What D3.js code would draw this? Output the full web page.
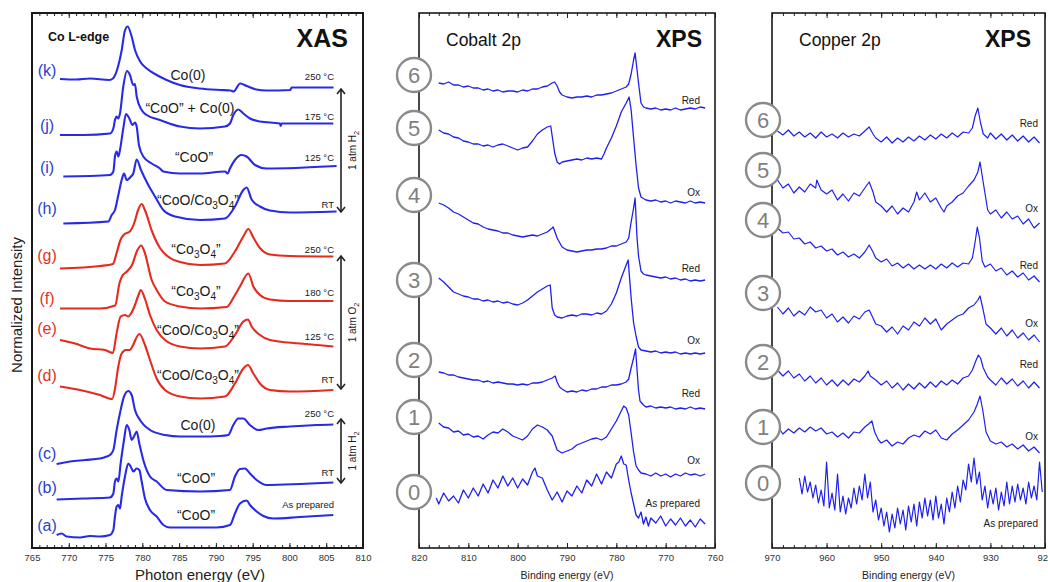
<!DOCTYPE html>
<html>
<head>
<meta charset="utf-8">
<script src="https://cdn.jsdelivr.net/npm/d3@7"></script>
<style>
  body { margin: 0; background: #fff; }
  text { font-family: "Liberation Sans", Arial, sans-serif; }
</style>
</head>
<body>
<svg id="fig" width="1048" height="582"></svg>
<script>
// ---------- XAS (Co L-edge), [photon energy eV, normalized intensity] ----------
const xasA = [[768.35,0.26],[769.03,0.29],[769.71,0.23],[771.52,0.21],[772.88,0.24],[774.24,0.23],[775.6,0.26],[776.06,0.36],[776.28,0.63],[776.51,0.83],[776.74,0.86],[776.96,0.79],[777.19,1.03],[777.64,1.43],[778.09,1.69],[778.41,1.63],[778.77,1.53],[779.23,1.59],[779.59,1.56],[779.91,1.33],[780.36,0.99],[781.04,0.76],[781.95,0.63],[782.85,0.46],[783.76,0.41],[785.12,0.41],[787.84,0.41],[790.1,0.41],[791.91,0.46],[792.59,0.69],[793.27,0.89],[794.18,0.95],[794.63,0.86],[795.54,0.73],[796.45,0.64],[797.8,0.59],[801.43,0.62],[805.96,0.66]];
const xasB = [[768.35,0.97],[771.98,0.99],[775.6,1.01],[776.06,1.09],[776.28,1.33],[776.51,1.39],[776.74,1.33],[777.05,1.69],[777.51,2.16],[777.87,2.46],[778.23,2.36],[778.55,2.16],[778.86,2.23],[779.23,2.33],[779.59,2.09],[780.13,1.76],[781.04,1.43],[781.95,1.33],[783.31,1.16],[787.84,1.13],[791.91,1.16],[792.59,1.43],[793.27,1.58],[793.95,1.59],[794.63,1.49],[795.54,1.36],[796.9,1.26],[801.43,1.28],[805.96,1.31]];
const xasC = [[768.35,1.68],[770.17,1.73],[772.2,1.76],[774.24,1.79],[775.15,1.83],[775.6,1.86],[776.06,1.96],[776.51,2.36],[777.05,2.76],[777.51,3.03],[778.09,3.14],[778.55,3.06],[779.0,2.76],[779.68,2.56],[781.04,2.36],[783.08,2.26],[785.12,2.23],[787.84,2.23],[790.55,2.24],[791.69,2.26],[792.37,2.46],[793.05,2.59],[793.73,2.59],[794.63,2.46],[795.77,2.36],[796.9,2.39],[800.07,2.43],[803.7,2.46],[805.96,2.47]];
const xasD = [[768.81,3.23],[771.52,3.16],[774.24,3.06],[775.9,2.98],[776.3,3.2],[776.7,3.6],[777.19,3.89],[777.78,3.96],[778.32,3.96],[778.64,4.03],[779.59,4.28],[780.36,4.06],[781.04,3.76],[781.95,3.39],[783.08,3.16],[785.12,3.03],[787.84,2.99],[791.23,3.03],[792.59,3.29],[793.73,3.59],[794.36,3.66],[795.09,3.49],[795.99,3.29],[797.35,3.16],[800.07,3.13],[805.96,3.16]];
const xasE = [[768.81,4.16],[770.85,4.09],[772.88,3.99],[774.92,3.96],[776.0,3.9],[776.51,4.3],[777.05,4.63],[777.64,4.66],[778.09,4.63],[778.46,4.69],[779.0,4.86],[779.45,5.05],[779.8,5.16],[780.36,4.98],[781.04,4.66],[781.95,4.36],[783.08,4.16],[785.12,4.03],[787.84,3.99],[791.23,4.03],[792.59,4.26],[793.73,4.53],[794.36,4.57],[794.86,4.43],[795.99,4.26],[797.35,4.16],[801.43,4.09],[805.96,4.03]];
const xasF = [[768.81,4.79],[774.24,4.79],[776.3,4.85],[776.9,5.3],[777.3,5.45],[777.9,5.53],[778.6,5.66],[779.3,5.95],[779.85,6.05],[780.3,5.92],[781.27,5.36],[781.95,5.16],[783.08,4.93],[785.12,4.83],[787.84,4.79],[791.46,4.82],[792.59,5.06],[793.27,5.23],[794.41,5.49],[795.09,5.23],[795.99,5.06],[797.35,4.97],[800.07,4.94],[805.96,4.94]];
const xasG = [[768.81,5.59],[774.24,5.64],[776.0,5.68],[776.5,5.9],[777.0,6.15],[777.5,6.27],[778.3,6.33],[778.9,6.5],[779.4,6.75],[779.9,6.88],[780.4,6.74],[781.3,6.34],[782.4,6.0],[783.76,5.8],[785.12,5.72],[787.84,5.66],[791.23,5.69],[792.59,5.93],[793.73,6.23],[794.41,6.38],[795.09,6.21],[795.99,6.0],[797.35,5.87],[800.07,5.84],[805.96,5.83]];
const xasH = [[769.26,6.49],[775.38,6.53],[775.83,6.66],[776.28,6.76],[776.74,7.06],[777.19,7.36],[777.51,7.49],[777.87,7.36],[778.46,7.43],[778.77,7.49],[779.23,7.77],[779.82,7.56],[780.81,7.26],[781.72,7.03],[782.85,6.76],[784.44,6.63],[787.84,6.56],[791.23,6.59],[792.59,6.83],[793.73,7.16],[794.18,7.21],[794.86,6.97],[795.99,6.83],[797.35,6.75],[800.07,6.71],[806.41,6.73]];
const xasI = [[769.26,7.43],[775.6,7.46],[776.06,7.53],[776.28,7.83],[776.51,7.93],[776.74,7.83],[776.96,7.96],[777.41,8.39],[777.78,8.68],[778.23,8.59],[778.68,8.46],[779.0,8.51],[779.23,8.43],[779.54,8.06],[780.13,7.83],[781.27,7.69],[782.4,7.59],[782.85,7.53],[785.12,7.49],[787.84,7.49],[791.23,7.53],[791.6,7.49],[791.91,7.59],[792.59,7.76],[793.5,7.86],[794.18,7.83],[795.31,7.66],[796.9,7.59],[806.41,7.64]];
const xasJ = [[768.8,8.26],[772.0,8.26],[775.6,8.29],[776.06,8.39],[776.28,8.56],[776.51,8.63],[776.74,8.59],[776.96,8.69],[777.41,9.23],[777.91,9.54],[778.32,9.46],[778.77,9.26],[779.0,9.28],[779.23,9.03],[779.91,8.76],[780.59,8.66],[782.4,8.56],[785.12,8.43],[787.84,8.39],[791.23,8.43],[791.91,8.49],[792.37,8.66],[793.05,8.77],[793.73,8.69],[794.63,8.59],[795.99,8.53],[798.71,8.49],[798.8,8.44],[798.94,8.49],[805.96,8.49]];
const xasK = [[768.8,9.38],[771.0,9.37],[772.9,9.39],[775.5,9.36],[776.0,9.39],[776.7,9.63],[777.2,9.96],[777.6,10.33],[778.0,10.43],[778.55,10.23],[779.0,9.96],[779.7,9.73],[780.6,9.59],[781.95,9.46],[783.3,9.36],[785.1,9.26],[787.8,9.19],[790.6,9.16],[792.0,9.15],[792.4,9.13],[793.3,9.29],[794.2,9.24],[795.5,9.17],[796.9,9.15],[800.1,9.16],[800.3,9.21],[806.0,9.21]];

const xasIds = ["(a)","(b)","(c)","(d)","(e)","(f)","(g)","(h)","(i)","(j)","(k)"];
const xasPhases = ["“CoO”","“CoO”","Co(0)","“CoO/Co_3O_4”","“CoO/Co_3O_4”","“Co_3O_4”","“Co_3O_4”","“CoO/Co_3O_4”","“CoO”","“CoO” + Co(0)","Co(0)"];
const xasTemps = ["As prepared","RT","250 °C","RT","125 °C","180 °C","250 °C","RT","125 °C","175 °C","250 °C"];
const xasOxidising = ["(d)","(e)","(f)","(g)"];
const xasTicks = [765,770,775,780,785,790,795,800,805,810];

// ---------- XPS Cobalt 2p, [binding energy eV, counts a.u.] ----------
const co0 = [[816.5,50],[816,44],[815,55],[814,47],[813,52],[812,45],[811,58],[810,50],[809,60],[808,52],[807,64],[806,55],[805,68],[804,60],[803,72],[802,62],[801,70],[800,60],[799,69],[798,63],[797,76],[796.5,80],[796,72],[795,70],[794,58],[793,48],[792,56],[791,46],[790,57],[789,52],[788,62],[787,55],[786,68],[785,62],[784,74],[783,64],[782,76],[781,70],[780,84],[779.5,86],[779,92],[778.5,84],[778,83],[777.5,68],[777,55],[776.5,44],[776,33],[775.5,30],[775,36],[774.5,24],[774,31],[773.5,22],[773,30],[772,25],[771,32],[770,22],[769,29],[768,23],[767,30],[766,22],[765,28],[764,21],[763,29],[762,24]];
const co1 = [[816,125],[815,121],[814,120],[813,116],[812,117],[811,113],[810,114],[809,111],[808,112],[807,109],[806,113],[805,116],[804,115],[803,119],[802,116],[801,112],[800,110],[799,108],[798,112],[797,119],[796,123],[795,121],[794,118],[793,112],[792,98],[791,95],[790,97],[789,99],[788,103],[787,105],[786,107],[785,109],[784,110],[783,108],[782,111],[781,119],[780,127],[779,137],[778.5,142],[778,140],[777.5,133],[777,115],[776.5,96],[776,82],[775.5,78],[775,75],[774,74],[773,72],[772,75],[771,72],[770,74],[769,71],[768,74],[767,72],[766,75],[765,73],[764,74],[763,72],[762,74]];
const co2 = [[816,176],[815,175],[814,173],[813,173],[812,171],[811,170],[810,169],[809,168],[808,168],[807,166],[806,167],[805,165],[804,166],[803,165],[802,164],[801,164],[800,163],[799,164],[798,163],[797,165],[796,165],[795,166],[794,168],[793,170],[792.4,172],[792,166],[791.5,161],[791,159],[790,156],[789,157],[788,156],[787,158],[786,157],[785,159],[784,159],[783,161],[782,161],[781,163],[780,163],[779,164],[778,166],[777.5,169],[777,180],[776.5,190],[776.1,199],[775.8,178],[775.5,158],[775.2,147],[774.5,143],[774,141],[773,142],[772,140],[771,141],[770,140],[769,141],[768,139],[767,140],[766,139],[765,141],[764,139],[763,140],[762,139]];
const co3 = [[816,270],[815,266],[814,261],[813,256],[812,254],[811,252],[810,251],[809,249],[808,249],[807,247],[806,248],[805,246],[804,247],[803,245],[802,246],[801,244],[800,243],[799,245],[798,248],[797,252],[796,256],[795,259],[794,262],[793.4,263],[793,240],[792.5,233],[792,231],[791,230],[790,232],[789,233],[788,232],[787,234],[786,234],[785,233],[784,235],[783,234],[782,237],[781,244],[780,255],[779,270],[778,283],[777.6,288],[777,250],[776.5,225],[776,212],[775.5,201],[775,198],[774,197],[773,196],[772,197],[771,195],[770,196],[769,195],[768,196],[767,194],[766,195],[765,194],[764,195],[763,194],[762,195]];
const co4 = [[816,345],[815,343],[814,340],[813,336],[812,334],[811,331],[810,328],[809,325],[808,324],[807,321],[806,319],[805,318],[804,317],[803,315],[802,315],[801,313],[800,312],[799,311],[798,312],[797,313],[796,312],[795,314],[794,316],[793,320],[792.8,321],[792,310],[791,301],[790,298],[789,297],[788,296],[787,297],[786,298],[785,298],[784,299],[783,299],[782,300],[781,302],[780,302],[779,304],[778,306],[777.5,310],[777,326],[776.5,340],[776.2,350],[775.8,310],[775.5,292],[775,277],[774.5,274],[774,273],[773,272],[772,271],[771,270],[770,271],[769,269],[768,270],[767,268],[766,269],[765,267],[764,268],[763,267],[762,268]];
const co5 = [[816,418],[815,415],[814,414],[813,411],[812,410],[811,407],[810,406],[809,404],[808,404],[807,402],[806,403],[805,401],[804,403],[803,404],[802,402],[801,400],[800,398],[799,400],[798,401],[797,407],[796,414],[795,418],[794,421],[793.3,422],[793,412],[792.5,395],[792,386],[791.5,384],[791,386],[790,387],[789,388],[788,389],[787,388],[786,390],[785,389],[784,390],[783,389],[782.5,394],[782,400],[781,410],[780,422],[779,436],[778,445],[777.4,451],[777,438],[776.5,410],[776,383],[775.5,360],[775,351],[774,348],[773,347],[772,348],[771,346],[770,347],[769,345],[768,347],[767,346],[766,345],[765,347],[764,345],[763,346],[762,345]];
const co6 = [[816,465],[815,464],[814,466],[813,463],[812,463],[811,461],[810,462],[809,460],[808,460],[807,458],[806,459],[805,457],[804,458],[803,456],[802,457],[801,457],[800,456],[799,458],[798,457],[797,459],[796,459],[795,461],[794,462],[793,465],[792.5,466],[792,462],[791.5,456],[791,453],[790,451],[789,450],[788,451],[787,451],[786,452],[785,451],[784,453],[783,453],[782,454],[781,455],[780,457],[779,459],[778,461],[777.5,464],[777,474],[776.5,488],[776.2,495],[775.8,478],[775.5,465],[775,445],[774.5,441],[774,440],[773,439],[772,440],[771,438],[770,439],[769,438],[768,440],[767,438],[766,439],[765,440],[764,439],[763,441],[762,440]];
const coTicks = [820,810,800,790,780,770,760];

// ---------- XPS Copper 2p ----------
const cu0 = [[965,70],[964.5,54],[964,72],[963.5,56],[963,66],[962.5,50],[962,63],[961.5,45],[961,58],[960.5,42],[960,86],[959.5,40],[959,55],[958.5,38],[958,74],[957.5,36],[957,52],[956.5,34],[956,50],[955.5,40],[955,60],[954.5,44],[954,62],[953.5,48],[953,74],[952.5,50],[952,66],[951.5,36],[951,48],[950.5,28],[950,40],[949.5,22],[949,36],[948.5,16],[948,34],[947.5,20],[947,40],[946.5,24],[946,38],[945.5,18],[945,42],[944.5,26],[944,44],[943.5,22],[943,46],[942.5,30],[942,50],[941.5,32],[941,48],[940.5,28],[940,52],[939.5,30],[939,44],[938.5,24],[938,50],[937.5,36],[937,56],[936.5,40],[936,62],[935.5,46],[935,68],[934.5,58],[934,84],[933.5,66],[933,90],[932.5,64],[932,76],[931.5,48],[931,62],[930.5,40],[930,58],[929.5,44],[929,60],[928.5,38],[928,56],[927.5,42],[927,66],[926.5,44],[926,62],[925.5,46],[925,64],[924.5,48],[924,60],[923.5,44],[923,66],[922.5,50],[922,62],[921.5,48],[921,86],[920.5,56]];
const cu1 = [[968.5,118],[968,114],[967,119],[966,115],[965,120],[964,116],[963,121],[962,117],[961,120],[960,114],[959,116],[958,111],[957,115],[956,110],[955,116],[954,115],[953,121],[952.3,124],[951.7,127],[951.2,116],[950.5,108],[950,105],[949,108],[948,102],[947,106],[946,104],[945,110],[944,113],[943,111],[942,117],[941,114],[940,118],[939,110],[938,108],[937,114],[936,118],[935,123],[934,128],[933,136],[932.4,144],[931.9,152],[931.4,138],[930.8,116],[930,107],[929,104],[928,106],[927,101],[926,104],[925,99],[924,103],[923,97],[922,101],[921,95]];
const cu2 = [[969,178],[968,172],[967,177],[966,170],[965,174],[964,167],[963,172],[962,165],[961,170],[960,163],[959,168],[958,162],[957,168],[956,163],[955,169],[954,166],[953,172],[952.4,177],[952,172],[951,168],[950,163],[949,167],[948,160],[947,165],[946,158],[945,164],[944,159],[943,165],[942,160],[941,166],[940,161],[939,167],[938,163],[937,168],[936,164],[935,170],[934,172],[933.3,178],[932.6,188],[932.2,193],[931.8,190],[931.3,180],[930.5,171],[930,168],[929,163],[928,170],[927,164],[926,169],[925,162],[924,167],[923,160],[922,166],[921,160]];
const cu3 = [[969,241],[968,234],[967,240],[966,232],[965,237],[964,233],[963,241],[962,236],[961,238],[960,230],[959,234],[958,226],[957,231],[956,225],[955,232],[954,229],[953,236],[952.2,238],[951.5,230],[951,224],[950,222],[949,216],[948,221],[947,214],[946,222],[945,218],[944,226],[943,222],[942,230],[941,224],[940,229],[939,218],[938,224],[937,228],[936,232],[935,234],[934,240],[933,243],[932.3,248],[931.9,252],[931.4,240],[930.8,224],[930,220],[929,214],[928,220],[927,212],[926,218],[925,210],[924,215],[923,208],[922,213],[921,206]];
const cu4 = [[969,320],[968,315],[967,316],[966,309],[965,310],[964,304],[963,306],[962,300],[961,302],[960,297],[959,299],[958,293],[957,296],[956,291],[955,294],[954,290],[953,296],[952.2,303],[951.5,296],[951,290],[950,286],[949,289],[948,282],[947,285],[946,280],[945,284],[944,279],[943,283],[942,279],[941,283],[940,279],[939,284],[938,280],[937,285],[936,281],[935,285],[934,284],[933.3,290],[932.8,306],[932.4,321],[932,310],[931.5,287],[931,281],[930,284],[929,277],[928,280],[927,273],[926,277],[925,271],[924,275],[923,268],[922,272],[921,266]];
const cu5 = [[969,368],[968,360],[967,364],[966,355],[965,361],[964,356],[963,364],[962,360],[961.8,368],[961,358],[960,354],[959,358],[958,348],[957,354],[956,347],[955,355],[954,352],[953,360],[952.2,366],[951.5,356],[951,346],[950,342],[949,336],[948,342],[947,334],[946,340],[945,336],[944,346],[943.5,356],[943,348],[942,355],[941,346],[940,350],[939,340],[938.5,336],[938,342],[937,346],[936,352],[935,355],[934,362],[933,368],[932.3,376],[931.9,386],[931.5,372],[931,355],[930.5,338],[930,334],[929,338],[928,330],[927,336],[926,329],[925,332],[924,324],[923,329],[922,320],[921,325]];
const cu6 = [[969,417],[968,413],[967,418],[966,412],[965,416],[964,411],[963,415],[962,410],[961,416],[960,411],[959,414],[958,410],[957,415],[956,411],[955,414],[954,412],[953,417],[952.2,421],[951.5,414],[951,410],[950,406],[949,411],[948,405],[947,410],[946,406],[945,411],[944,407],[943,412],[942,408],[941,413],[940,409],[939,414],[938,410],[937,415],[936,411],[935,416],[934,415],[933.3,420],[932.8,432],[932.3,440],[931.8,425],[931.3,414],[930.5,410],[930,415],[929,409],[928,414],[927,408],[926,413],[925,407],[924,412],[923,406],[922,411],[921,405]];
const cuTicks = [970,960,950,940,930,920];

const xpsIds = ["0","1","2","3","4","5","6"];
const xpsStates = ["As prepared","Ox","Red","Ox","Red","Ox","Red"];

// ---------- drawing ----------
const svg = d3.select("#fig");
const BLUE = "#2a2ae6", RED = "#e52a1e", XPSBLUE = "#1f1fee";

// text with "_3" style subscripts
function rich(g, str, x, y, size) {
  const t = g.append("text").attr("x", x).attr("y", y).attr("font-size", size);
  let down = false;
  str.split(/(_\d)/).filter(s => s).forEach(s => {
    if (s[0] === "_") {
      t.append("tspan").attr("dy", size * 0.3).attr("font-size", size * 0.72).text(s.slice(1));
      down = true;
    } else {
      const ts = t.append("tspan").text(s);
      if (down) { ts.attr("dy", -size * 0.3); down = false; }
    }
  });
  return t;
}

function frame(x, y, majors, minorStep, sw) {
  const g = svg.append("g");
  const [x0, x1] = x.range(), [yb, yt] = y.range();
  const lo = d3.min(x.domain()), hi = d3.max(x.domain());
  const minors = d3.range(lo, hi + 0.01, minorStep);
  // bottom ticks, inward
  g.append("g").attr("transform", `translate(0,${yb})`)
    .call(d3.axisBottom(x).tickValues(minors).tickSize(-3).tickFormat(""))
    .call(a => a.select(".domain").remove());
  g.append("g").attr("transform", `translate(0,${yb})`)
    .call(d3.axisBottom(x).tickValues(majors).tickSize(-5).tickPadding(6).tickFormat(d3.format("d")))
    .call(a => a.select(".domain").remove())
    .call(a => a.selectAll("text").attr("font-size", 9.5).attr("fill", "#333")
      .attr("font-family", "'Liberation Sans', Arial, sans-serif"));
  // top ticks, inward
  g.append("g").attr("transform", `translate(0,${yt})`)
    .call(d3.axisTop(x).tickValues(minors).tickSize(-3).tickFormat(""))
    .call(a => a.select(".domain").remove());
  g.append("g").attr("transform", `translate(0,${yt})`)
    .call(d3.axisTop(x).tickValues(majors).tickSize(-5).tickFormat(""))
    .call(a => a.select(".domain").remove());
  g.selectAll(".tick line").attr("stroke", "#222");
  g.append("rect").attr("x", x0).attr("y", yt).attr("width", x1 - x0).attr("height", yb - yt)
    .attr("fill", "none").attr("stroke", "#1a1a1a").attr("stroke-width", sw);
  return g;
}

// ===== Panel 1: XAS =====
const xA = d3.scaleLinear().domain([765, 810]).range([32, 363]);
const yA = d3.scaleLinear().domain([0, 10.7]).range([548, 13]);
const xasSeries = [xasA, xasB, xasC, xasD, xasE, xasF, xasG, xasH, xasI, xasJ, xasK];

const lineA = d3.line().x(d => xA(d[0])).y(d => yA(d[1])).curve(d3.curveMonotoneX);
const pA = svg.append("g");
pA.selectAll("path").data(xasSeries).join("path")
  .attr("d", lineA).attr("fill", "none")
  .attr("stroke", (d, i) => xasOxidising.includes(xasIds[i]) ? RED : BLUE)
  .attr("stroke-width", 2.1).attr("stroke-linejoin", "round");

frame(xA, yA, xasTicks, 1, 2);

const idY = [531, 493, 459, 381, 334, 304, 261, 214, 173, 131, 76];
const phaseY = [520, 483, 430, 380, 335, 296, 254, 205, 162, 113, 80];
const phaseX = [196, 196, 198, 198, 198, 196, 196, 198, 194, 190, 188];
const tempY = [508, 476, 417, 383, 340, 296, 253, 208, 161, 120, 80];
xasIds.forEach((id, i) => {
  const red = xasOxidising.includes(id);
  pA.append("text").attr("x", 47).attr("y", idY[i]).attr("text-anchor", "middle")
    .attr("font-size", 16).attr("fill", red ? "#e0321f" : "#2b3fd0").text(id);
  rich(pA, xasPhases[i], phaseX[i], phaseY[i], 14).attr("text-anchor", "middle").attr("fill", "#1a1a1a");
  pA.append("text").attr("x", 334).attr("y", tempY[i]).attr("text-anchor", "end")
    .attr("font-size", 9.5).attr("fill", "#1a1a1a").text(xasTemps[i]);
});

// gas brackets
const brackets = [
  { top: 89, bottom: 212, label: "1 atm H_2" },
  { top: 256, bottom: 389, label: "1 atm O_2" },
  { top: 419, bottom: 483, label: "1 atm H_2" }
];
brackets.forEach(b => {
  const bx = 341;
  pA.append("line").attr("x1", bx).attr("x2", bx).attr("y1", b.top).attr("y2", b.bottom)
    .attr("stroke", "#222").attr("stroke-width", 1.6);
  pA.append("path").attr("d", `M${bx - 4},${b.top + 5}L${bx},${b.top}L${bx + 4},${b.top + 5}`)
    .attr("fill", "none").attr("stroke", "#222").attr("stroke-width", 1.6);
  pA.append("path").attr("d", `M${bx - 4},${b.bottom - 5}L${bx},${b.bottom}L${bx + 4},${b.bottom - 5}`)
    .attr("fill", "none").attr("stroke", "#222").attr("stroke-width", 1.6);
  const cy = (b.top + b.bottom) / 2;
  rich(pA, b.label, 0, 0, 10).attr("text-anchor", "middle").attr("fill", "#222")
    .attr("transform", `translate(356,${cy}) rotate(-90)`);
});

pA.append("text").attr("x", 48).attr("y", 41).attr("font-size", 12.5).attr("font-weight", "bold")
  .attr("fill", "#111").text("Co L-edge");
pA.append("text").attr("x", 348).attr("y", 47).attr("text-anchor", "end").attr("font-size", 25)
  .attr("font-weight", "bold").attr("fill", "#111").text("XAS");
pA.append("text").attr("transform", "translate(22,305) rotate(-90)").attr("text-anchor", "middle")
  .attr("font-size", 15).attr("fill", "#222").text("Normalized Intensity");
pA.append("text").attr("x", 200).attr("y", 580).attr("text-anchor", "middle")
  .attr("font-size", 15).attr("fill", "#222").text("Photon energy (eV)");

// ===== XPS panels =====
function xpsPanel(opts) {
  const x = d3.scaleLinear().domain(opts.domain).range(opts.range);
  const y = d3.scaleLinear().domain([0, 535]).range([548, 13]);
  const g = svg.append("g");
  const line = d3.line().x(d => x(d[0])).y(d => y(d[1]));
  g.selectAll("path.spec").data(opts.series).join("path").attr("class", "spec")
    .attr("d", line).attr("fill", "none").attr("stroke", XPSBLUE)
    .attr("stroke-width", opts.sw).attr("stroke-linejoin", "round");
  frame(x, y, opts.ticks, 2, 1.6);
  const ax = (opts.range[0] + opts.range[1]) / 2;
  svg.append("text").attr("x", ax).attr("y", 579).attr("text-anchor", "middle")
    .attr("font-size", 10.5).attr("fill", "#222").text("Binding energy (eV)");
  svg.append("text").attr("x", opts.range[0] + 27).attr("y", 46).attr("font-size", 17.5)
    .attr("fill", "#111").text(opts.title);
  svg.append("text").attr("x", opts.xpsRight).attr("y", 47).attr("text-anchor", "end")
    .attr("font-size", 23).attr("font-weight", "bold").attr("fill", "#111").text("XPS");
  xpsIds.forEach((id, i) => {
    const c = svg.append("g").attr("transform", `translate(${opts.cx},${opts.circleY[i]})`);
    c.append("circle").attr("r", 17).attr("fill", "#fff").attr("stroke", "#8a8a8a").attr("stroke-width", 2.4);
    c.append("text").attr("y", 8).attr("text-anchor", "middle").attr("font-size", 22)
      .attr("fill", "#808080").text(id);
    svg.append("text").attr("x", opts.labelRight).attr("y", opts.stateY[i]).attr("text-anchor", "end")
      .attr("font-size", 10).attr("fill", "#1a1a1a").text(xpsStates[i]);
  });
}

xpsPanel({
  domain: [820, 760], range: [419, 715], ticks: coTicks, sw: 1.3,
  series: [co0, co1, co2, co3, co4, co5, co6], title: "Cobalt 2p", xpsRight: 702,
  cx: 414, circleY: [492, 417, 360, 280, 195, 128, 75],
  labelRight: 700, stateY: [507, 464, 397, 344, 272, 196, 104]
});
xpsPanel({
  domain: [970, 920], range: [772, 1045], ticks: cuTicks, sw: 1.2,
  series: [cu0, cu1, cu2, cu3, cu4, cu5, cu6], title: "Copper 2p", xpsRight: 1031,
  cx: 763, circleY: [483, 427, 362, 293, 220, 170, 120],
  labelRight: 1038, stateY: [527, 440, 368, 327, 269, 212, 127]
});
</script>
</body>
</html>
